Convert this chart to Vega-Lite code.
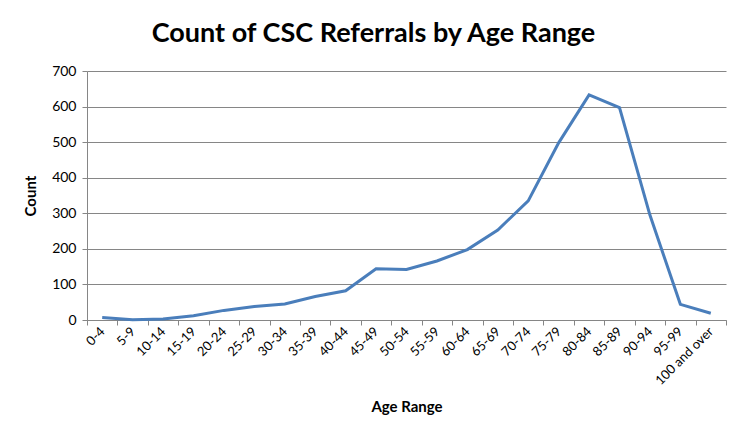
{
  "$schema": "https://vega.github.io/schema/vega-lite/v6.json",
  "autosize": "none",
  "width": 639,
  "height": 249,
  "padding": {"left": 87, "top": 71, "right": 17, "bottom": 114},
  "background": "white",
  "title": {
    "text": "Count of CSC Referrals by Age Range",
    "font": "Lato",
    "fontSize": 27,
    "fontWeight": "bold",
    "color": "#000000",
    "anchor": "middle",
    "dx": -33,
    "offset": 16
  },
  "data": {
    "values": [
      {"age": "0-4", "count": 7},
      {"age": "5-9", "count": 1},
      {"age": "10-14", "count": 3},
      {"age": "15-19", "count": 12},
      {"age": "20-24", "count": 27},
      {"age": "25-29", "count": 38},
      {"age": "30-34", "count": 45},
      {"age": "35-39", "count": 66},
      {"age": "40-44", "count": 82},
      {"age": "45-49", "count": 144},
      {"age": "50-54", "count": 142},
      {"age": "55-59", "count": 166},
      {"age": "60-64", "count": 198},
      {"age": "65-69", "count": 253},
      {"age": "70-74", "count": 335},
      {"age": "75-79", "count": 498},
      {"age": "80-84", "count": 633},
      {"age": "85-89", "count": 597},
      {"age": "90-94", "count": 295},
      {"age": "95-99", "count": 44},
      {"age": "100 and over", "count": 19}
    ]
  },
  "mark": {"type": "line", "color": "#4a7ebb", "strokeWidth": 3, "strokeJoin": "miter"},
  "encoding": {
    "x": {
      "field": "age",
      "type": "ordinal",
      "sort": null,
      "scale": {"type": "band", "paddingInner": 0, "paddingOuter": 0},
      "axis": {
        "title": "Age Range",
        "titleFont": "Lato",
        "titleFontSize": 15,
        "titleFontWeight": "bold",
        "titleColor": "#000000",
        "titlePadding": 12,
        "labelAngle": -45,
        "labelAlign": "right",
        "labelBaseline": "middle",
        "labelFont": "Lato",
        "labelFontSize": 13,
        "labelColor": "#000000",
        "labelPadding": 4,
        "tickBand": "extent",
        "tickSize": 5,
        "tickColor": "#868686",
        "domainColor": "#868686",
        "grid": false
      }
    },
    "y": {
      "field": "count",
      "type": "quantitative",
      "scale": {"domain": [0, 700], "nice": false},
      "axis": {
        "title": "Count",
        "titleFont": "Lato",
        "titleFontSize": 15,
        "titleFontWeight": "bold",
        "titleColor": "#000000",
        "titlePadding": 13,
        "values": [0, 100, 200, 300, 400, 500, 600, 700],
        "labelFont": "Lato",
        "labelFontSize": 14,
        "labelColor": "#000000",
        "labelPadding": 6,
        "tickSize": 5,
        "tickColor": "#868686",
        "domainColor": "#868686",
        "grid": true,
        "gridColor": "#868686",
        "gridWidth": 1
      }
    }
  },
  "config": {"view": {"stroke": null}}
}
